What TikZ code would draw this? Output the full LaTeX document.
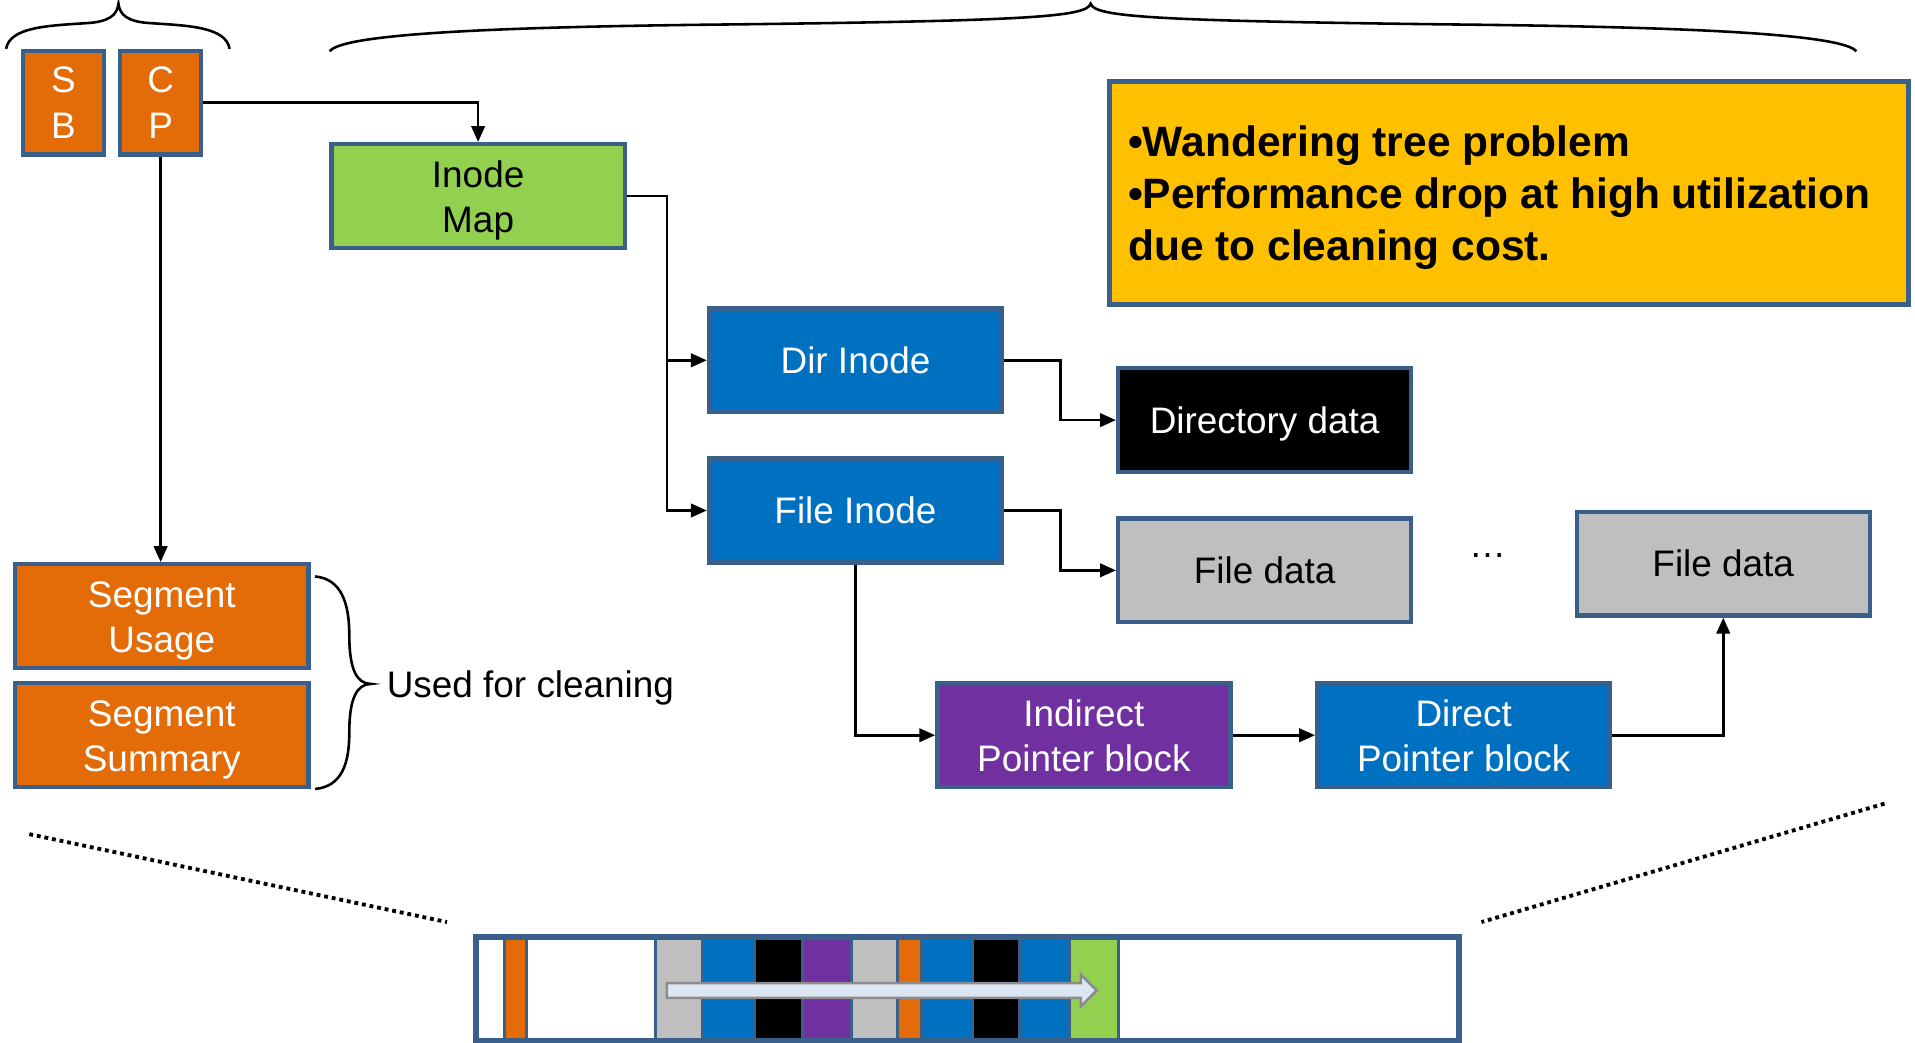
\documentclass[tikz,border=0pt]{standalone}
\usepackage{fontspec}
\setmainfont{Liberation Sans}
\usetikzlibrary{arrows.meta}
\definecolor{bordc}{HTML}{3A5F8B}
\definecolor{orng}{HTML}{E36C09}
\definecolor{blu}{HTML}{0070C0}
\definecolor{grn}{HTML}{92D050}
\definecolor{prp}{HTML}{7030A0}
\definecolor{gry}{HTML}{BFBFBF}
\definecolor{ylw}{HTML}{FFC000}
\definecolor{arrfill}{HTML}{DCE6F2}
\definecolor{arredge}{HTML}{8C8C8C}
\newcommand\boxfont{\fontsize{8.6}{10.5}\selectfont}
\newcommand\notefont{\fontsize{9.9}{12.1}\selectfont\bfseries}
% two centred lines, set a little lower in the box
\newcommand\twolines[2]{\raisebox{-0.4mm}[\height][\depth]{\begin{tabular}{@{}c@{}}#1\\#2\end{tabular}}}
\newcommand\lowered[1]{\raisebox{-0.3mm}[\height][\depth]{#1}}

\begin{document}
\begin{tikzpicture}[x=0.1mm,y=-0.1mm,
  blk/.style={draw=bordc, line width=1pt, minimum width=24.0mm, minimum height=8.5mm,
              inner sep=0pt, align=center, font=\boxfont},
  tall/.style={blk, minimum width=6.6mm, minimum height=8.5mm},
  link/.style={line width=0.6pt, -{Triangle[length=1.3mm,width=1.1mm]}},
  brace/.style={line width=0.6pt},
  cell/.style={draw=bordc, line width=0.7pt},
  dots/.style={line width=0.9pt, dash pattern=on 0.9pt off 0.9pt},
]
\useasboundingbox (0,0) rectangle (1568,854);

% checkpoint region
\node[tall, fill=orng, text=white] (sb) at (52,84) {S\\B};
\node[tall, fill=orng, text=white] (cp) at (131.5,84) {C\\P};

% inode tree
\node[blk, fill=grn] (imap) at (391.5,160.5) {\twolines{Inode}{Map}};
\node[blk, fill=blu, text=white] (dinode) at (700.5,295) {Dir Inode};
\node[blk, fill=blu, text=white] (finode) at (700.5,418) {File Inode};
\node[blk, fill=black, text=white] (ddata) at (1035.5,344) {\lowered{Directory data}};
\node[blk, fill=gry] (fdata1) at (1035.5,467) {File data};
\node[blk, fill=gry] (fdata2) at (1411,461.5) {File data};
\node[font=\boxfont] (more) at (1218,455) {…};
\node[blk, fill=prp, text=white] (indirect) at (887.5,602) {\twolines{Indirect}{Pointer block}};
\node[blk, fill=blu, text=white] (direct) at (1198.5,602) {\twolines{Direct}{Pointer block}};

% segment metadata
\node[blk, fill=orng, text=white] (susage) at (132.5,504.5) {\twolines{Segment}{Usage}};
\node[blk, fill=orng, text=white] (ssum) at (132.5,602) {\twolines{Segment}{Summary}};
\node[font=\boxfont, anchor=west, inner sep=0pt] (clean) at (316,563) {Used for cleaning};

% note box
\node[draw=bordc, line width=1.2pt, fill=ylw, minimum width=65.4mm, minimum height=18.3mm,
      inner sep=0pt] (note) at (1235.5,158) {};
\node[font=\notefont, anchor=west, align=left, inner sep=0pt] (notetext) at (923,162)
  {•Wandering tree problem\\•Performance drop at high utilization\\due to cleaning cost.};

% connectors
\draw[link] (cp.east) -| (imap.north);
\draw[link] (cp.south) -- (cp.south |- susage.north);
\coordinate (bus) at (546,160.5);
\draw[link] (imap.east) -- (bus) |- (finode.west);
\draw[link] (bus |- dinode.west) -- (dinode.west);
\draw[link] (dinode.east) -- ++(46,0) |- (ddata.west);
\draw[link] (finode.east) -- ++(46,0) |- (fdata1.west);
\draw[link] (finode.south) |- (indirect.west);
\draw[link] (indirect.east) -- (direct.west);
\draw[link] (direct.east) -| (fdata2.south);

% braces
\draw[brace] (5,40) .. controls (8,22) and (40,21) .. (70,19)
  .. controls (90,18) and (96,12) .. (97,3)
  .. controls (98,12) and (104,18) .. (124,19)
  .. controls (154,21) and (185,22) .. (188,40);
\draw[brace] (270,42) .. controls (280,28) and (400,22) .. (600,20)
  .. controls (840,17) and (890,14) .. (893,3)
  .. controls (896,14) and (946,17) .. (1186,20)
  .. controls (1386,22) and (1508,28) .. (1520,42);
\draw[brace] (258,472) .. controls (280,474) and (286,495) .. (286,520)
  .. controls (286,548) and (292,560) .. (304,560)
  .. controls (292,560) and (286,572) .. (286,600)
  .. controls (286,625) and (280,644) .. (258,646);

% zoom guides
\draw[dots] (24,683) -- (366,755);
\draw[dots] (1543,658) -- (1213,755);

% log layout on disk
\draw[draw=bordc, line width=1.4pt, fill=white] (390,767) rectangle (1195,852);
\foreach \xa/\xb/\c in {390/413/white, 413/431.5/orng, 431.5/536.5/white,
    536.5/575.3/gry, 575.3/617.4/blu, 617.4/657.3/black, 657.3/697.3/prp,
    697.3/735.1/gry, 735.1/754.8/orng, 754.8/795.9/blu, 795.9/834.7/black,
    834.7/875.7/blu, 875.7/915.7/grn, 915.7/1195/white}
  \draw[cell, fill=\c] (\xa,768) rectangle (\xb,852);
\draw[draw=bordc, line width=1.4pt] (390,767) rectangle (1195,852);
\draw[fill=arrfill, draw=arredge, line width=0.6pt]
  (546,805) -- (885,805) -- (885,798) -- (898,811) -- (885,824) -- (885,817) -- (546,817) -- cycle;
\end{tikzpicture}
\end{document}
